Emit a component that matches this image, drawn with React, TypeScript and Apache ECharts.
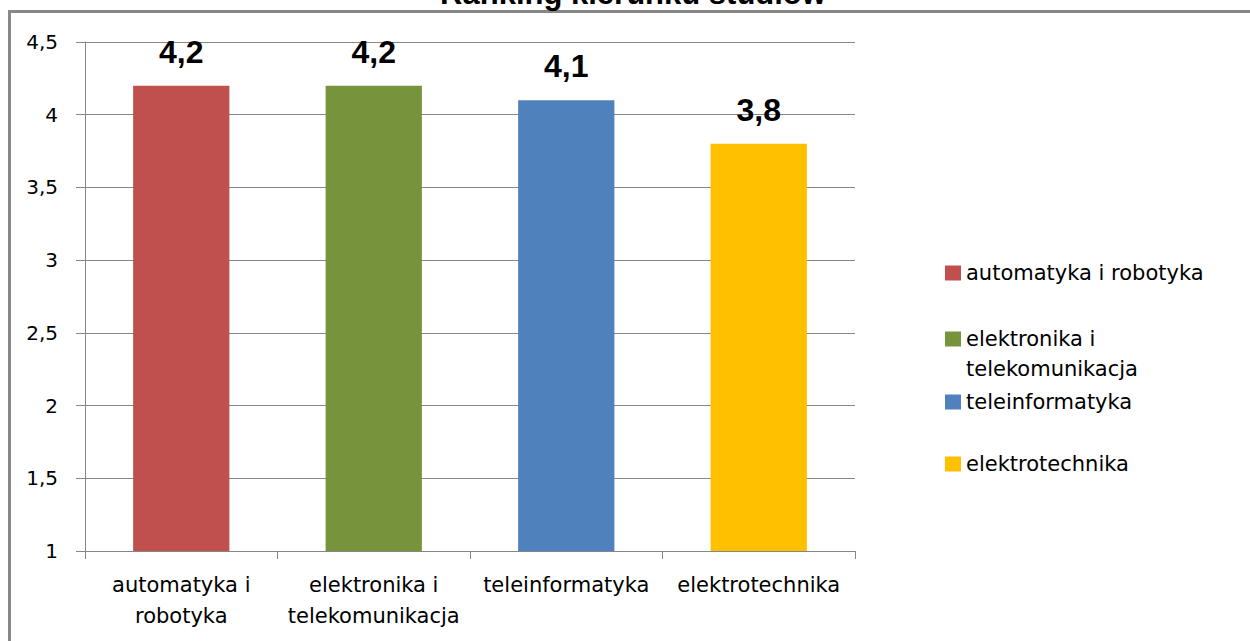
import React, { useEffect, useRef } from "react";
import * as echarts from "echarts";

const categories = [
  "automatyka i robotyka",
  "elektronika i telekomunikacja",
  "teleinformatyka",
  "elektrotechnika",
];
const values = [4.2, 4.2, 4.1, 3.8];
const colors = ["#C0504D", "#77933C", "#4F81BD", "#FFC000"];
const yTicks = { min: 1, max: 4.5, interval: 0.5 };
const titleText = "Ranking kierunku studiów";
const legendCenters = [273, 339, 402, 464];

const comma = (v: number) => String(v).replace(".", ",");
const AX = "#868686";
const FONT = "DejaVu Sans";

export default function App() {
  const ref = useRef<HTMLDivElement>(null);
  useEffect(() => {
    if (!ref.current) return;
    const chart = echarts.init(ref.current, undefined, { renderer: "svg" });
    const series = categories.map((name, i) => ({
      name,
      type: "bar",
      barWidth: "50%",
      barGap: "-100%",
      itemStyle: { color: colors[i] },
      label: {
        show: true,
        position: "top",
        distance: 18,
        formatter: (p: any) => comma(p.value),
        fontFamily: "Liberation Sans",
        fontWeight: "bold",
        fontSize: 32,
        color: "#000",
      },
      data: categories.map((_, j) => (j === i ? values[i] : "-")),
    }));
    const legends = categories.map((name, i) => {
      const two = i === 1;
      return {
        data: [name],
        orient: "vertical",
        left: 945,
        top: two ? legendCenters[i] - 45 : legendCenters[i] - 12,
        padding: 0,
        itemWidth: 16,
        itemHeight: 15,
        itemGap: 0,
        icon: "rect",
        selectedMode: false,
        formatter: (n: string) => (two ? " \n" + n.replace(" i ", " i\n") : n),
        textStyle: two
          ? { fontFamily: FONT, fontSize: 21, color: "#000", lineHeight: 30 }
          : { fontFamily: FONT, fontSize: 21, color: "#000", lineHeight: 24 },
      };
    });
    chart.setOption({
      animation: false,
      backgroundColor: "#fff",
      grid: { left: 85, top: 42, width: 770, height: 509, containLabel: false },
      legend: legends,
      xAxis: {
        type: "category",
        data: categories,
        axisLine: { lineStyle: { color: AX, width: 1 } },
        axisTick: { show: true, length: 8, alignWithLabel: false, interval: 0, lineStyle: { color: AX } },
        axisLabel: {
          interval: 0,
          margin: 18,
          fontFamily: FONT,
          fontSize: 21,
          lineHeight: 31,
          color: "#000",
          formatter: (v: string) => v.replace(" i ", " i\n"),
        },
      },
      yAxis: {
        type: "value",
        min: yTicks.min,
        max: yTicks.max,
        interval: yTicks.interval,
        axisLine: { show: true, lineStyle: { color: AX, width: 1 } },
        axisTick: { show: true, length: 9, lineStyle: { color: AX } },
        splitLine: { show: true, lineStyle: { color: AX, width: 1 } },
        axisLabel: {
          margin: 27,
          fontFamily: FONT,
          fontSize: 20,
          color: "#000",
          formatter: (v: number) => comma(v),
        },
      },
      series,
      graphic: [
        {
          type: "rect",
          shape: { x: 8, y: 10, width: 1242, height: 3 },
          style: { fill: "#888888" },
          silent: true,
        },
        {
          type: "rect",
          shape: { x: 8, y: 10, width: 3, height: 631 },
          style: { fill: "#888888" },
          silent: true,
        },
        {
          type: "text",
          x: 633,
          y: -7,
          style: {
            text: titleText,
            textAlign: "center",
            textVerticalAlign: "middle",
            fontFamily: "Liberation Sans",
            fontWeight: "bold",
            fontSize: 31,
            fill: "#000",
          },
          silent: true,
        },
      ],
    });
    return () => chart.dispose();
  }, []);
  return (
    <div
      ref={ref}
      style={{ position: "fixed", left: 0, top: 0, width: 1250, height: 641, background: "#fff" }}
    />
  );
}
